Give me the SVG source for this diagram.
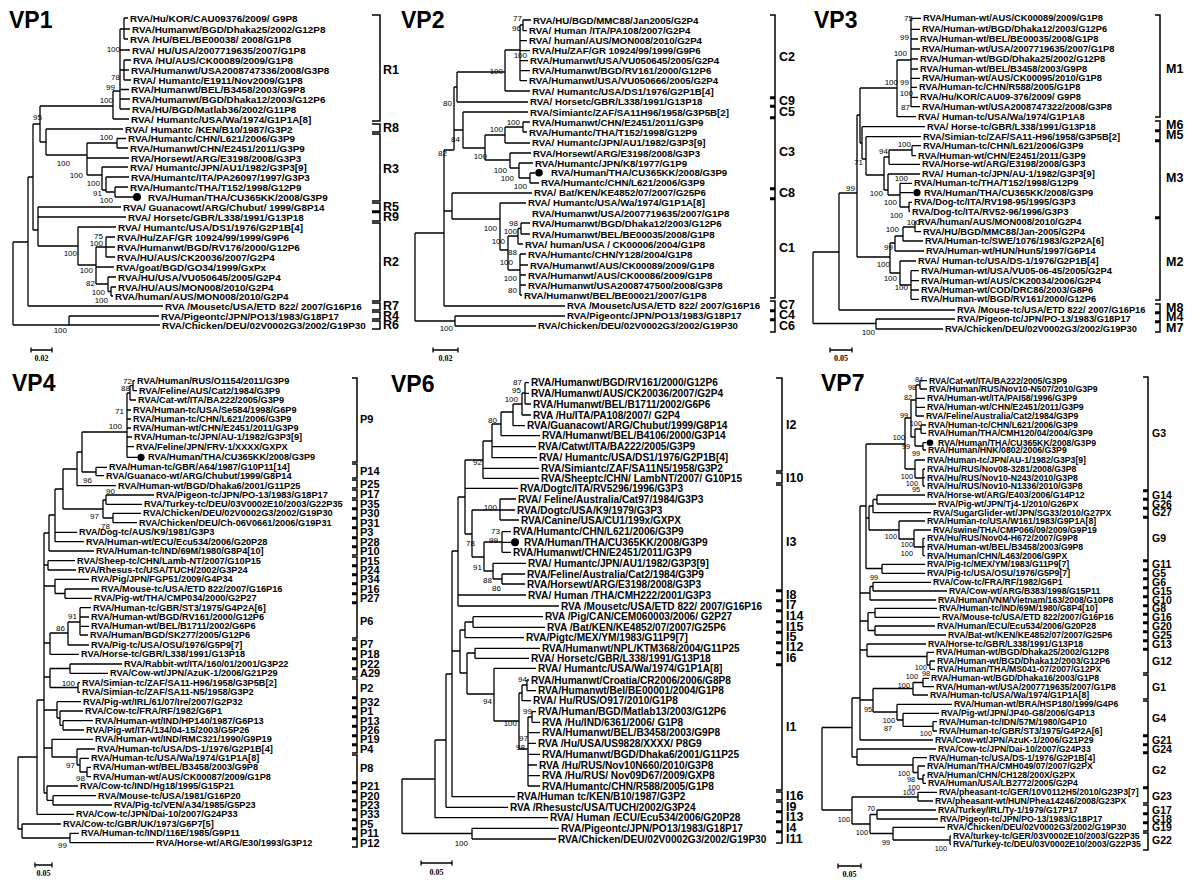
<svg xmlns="http://www.w3.org/2000/svg" width="1200" height="894" viewBox="0 0 1200 894">
<style>
text{font-family:"Liberation Sans",Arial,sans-serif;fill:#000}
.ttl{font-size:23px;font-weight:bold}
.tx text{font-weight:bold;dominant-baseline:central}
.f1{font-size:9.9px}.f2{font-size:9.7px}.f3{font-size:9.3px}.f4{font-size:9.2px}.f6{font-size:10.1px}.f7{font-size:8.7px}
.bs text{font-size:8px;text-anchor:end;dominant-baseline:central}
.bs7 text{font-size:7.3px}
.cl text{font-weight:bold;dominant-baseline:central}
.c14{font-size:12.5px}.c13{font-size:11px}.c12{font-size:10.5px}
.ln{fill:none;stroke:#000;stroke-width:1.3}
.br{fill:none;stroke:#000;stroke-width:1.5}
.sc text{font-family:"Liberation Serif",serif;font-weight:bold;font-size:8px;text-anchor:middle}
</style>
<rect width="1200" height="894" fill="#fff"/>

<!-- VP1 -->
<g id="vp1">
<text class="ttl" x="9" y="28">VP1</text>
<g id="vp1-connectors"><path class="ln" d="M124,18V39M124,18H128M124,29H130M124,39H128M120,29H124M120,50H130M124,60V80M124,60H131M124,70H129M124,80H131M120,70H124M120,89.5H129M120,99H130M120,109H130M120,29V109M113,91V119M113,91H120M113,119H129M40,106V142M40,106H113M40,142H46M46,129V155M46,129H123M46,155H87M87,143V175M87,143H117M87,158H129M87,175H102M117,138.5V148M117,138.5H126M117,148H128M102,167V190M102,167H128M102,190H106M106,177V192M106,177H129M106,192H115M115,187V197M115,187H128M115,197H133M33,124V230M33,124H40M33,230H38M38,207V246M38,207H121M38,217H126M38,246H78M78,227V265M78,227H116M78,265H96M96,247V284M96,247H106M96,267H114M96,284H108M106,237V257M106,237H115M106,247H115M106,257H115M108,277V291.5M108,277H116M108,291.5H111M111,287V296M111,287H116M111,296H113M28,177V306M28,177H33M28,306H163M13,242V325M13,242H28M13,325H69M69,316V325M69,316H159M69,325H160"/></g>
<circle cx="137" cy="197" r="4"/>
<g id="vp1-taxa" class="tx f1">
<text x="130" y="18.3">RVA/Hu/KOR/CAU09376/2009/ G9P8</text>
<text x="132" y="29.3">RVA/Humanwt/BGD/Dhaka25/2002/G12P8</text>
<text x="130" y="39.3">RVA /HU/BEL/BE00038/ 2008/G1P8</text>
<text x="132" y="50">RVA/ HU/USA/2007719635/2007/G1P8</text>
<text x="133" y="60">RVA /HU/AUS/CK00089/2009/G1P8</text>
<text x="131" y="70">RVA/Humanwt/USA2008747336/2008/G3P8</text>
<text x="133" y="80">RVA/ Humantc/E1911/Nov2009/G1P8</text>
<text x="131" y="89.5">RVA/Humanwt/BEL/B3458/2003/G9P8</text>
<text x="132" y="99">RVA/Humanwt/BGD/Dhaka12/2003/G12P6</text>
<text x="132" y="109">RVA/HU/BGD/Matlab36/2002/G11P8</text>
<text x="131" y="119">RVA/ Humantc/USA/Wa/1974/G1P1A[8]</text>
<text x="125" y="129">RVA/ Humantc /KEN/B10/1987/G3P2</text>
<text x="128" y="138.5">RVA/Humantc/CHN/L621/2006/G3P9</text>
<text x="130" y="148">RVA/Humanwt/CHN/E2451/2011/G3P9</text>
<text x="131" y="158">RVA/Horsewt/ARG/E3198/2008/G3P3</text>
<text x="130" y="167">RVA/ Humantc/JPN/AU1/1982/G3P3[9]</text>
<text x="131" y="177">RVA/Humantc/ITA/PA26097/1997/G3P3</text>
<text x="130" y="187">RVA/Humantc/THA/T152/1998/G12P9</text>
<text x="148" y="197">RVA/Human/THA/CU365KK/2008/G3P9</text>
<text x="123" y="207">RVA/ Guanacowt/ARG/Chubut/ 1999/G8P14</text>
<text x="128" y="217">RVA/ Horsetc/GBR/L338/1991/G13P18</text>
<text x="118" y="227">RVA/ Humantc/USA/DS1/1976/G2P1B[4]</text>
<text x="117" y="237">RVA/Hu/ZAF/GR 10924/99/1999/G9P6</text>
<text x="117" y="247">RVA/Humanwt/BGD/RV176/2000/G12P6</text>
<text x="117" y="257">RVA/HU/AUS/CK20036/2007/G2P4</text>
<text x="116" y="267">RVA/goat/BGD/GO34/1999/GxPx</text>
<text x="118" y="277">RVA/HU/USA/VU050645/2005/G2P4</text>
<text x="118" y="287">RVA/HU/AUS/MON008/2010/G2P4</text>
<text x="115" y="296">RVA/human/AUS/MON008/2010/G2P4</text>
<text x="165" y="306">RVA /Mousetc/USA/ETD 822/ 2007/G16P16</text>
<text x="161" y="316">RVA/Pigeontc/JPN/PO13/1983/G18P17</text>
<text x="162" y="325">RVA/Chicken/DEU/02V0002G3/2002/G19P30</text>
</g>
<g id="vp1-support" class="bs">
<text x="120" y="49">100</text><text x="120" y="77">78</text><text x="115" y="87">99</text><text x="113" y="100">100</text><text x="42" y="117">95</text><text x="113" y="137">100</text><text x="70" y="163">100</text><text x="83" y="175">100</text><text x="100" y="183">100</text><text x="102" y="193">91</text><text x="113" y="200">100</text><text x="103" y="236">75</text><text x="103" y="243">100</text><text x="77" y="253">100</text><text x="93" y="270">100</text><text x="95" y="283">82</text><text x="105" y="292">100</text><text x="108" y="300">100</text><text x="67" y="330">100</text>
</g>
<g id="vp1-clades" class="cl c14">
<path class="br" d="M372,15H380V121H372M372,124H380V132H372M372,134H380V201H372M372,203H380V211H372M372,212.5H380V221H372M372,223H380V301H372M372,303H380V310H372M372,312H380V319H372M372,321H380V329H372"/>
<text x="383" y="70">R1</text><text x="383" y="128">R8</text><text x="383" y="169">R3</text><text x="383" y="207">R5</text><text x="383" y="216.5">R9</text><text x="383" y="262">R2</text><text x="383" y="306">R7</text><text x="383" y="315.5">R4</text><text x="383" y="325">R6</text>
</g>
<g id="vp1-scale" class="sc"><path class="ln" d="M31,350H52M31,347.5V352.5M52,347.5V352.5"/><text x="41.5" y="361">0.02</text></g>
</g>

<!-- VP2 -->
<g id="vp2">
<text class="ttl" x="401" y="28">VP2</text>
<g id="vp2-connectors"><path class="ln" d="M523,20V30.7M523,20H531M523,30.7H527M520,25H523M520,25V80.7M520,40.7H527M520,50.7H530M520,60.7H528M520,70.7H530M520,80.7H527M505,50V91M505,50H520M505,91H530M457,72V102M457,72H505M457,102H528M463,112V148M463,112H528M463,148H485M454,87V150M454,87H457M454,130H463M444,150V306M444,150H454M444,211H452M444,306H565M415,233V321M415,233H444M415,321H455M455,316V326M455,316H565M455,326H536M452,193V219M452,193H532M452,219H500M500,203V250M500,203H526M500,250H508M508,236V270M508,236H518M508,270H520M518,228.5V244M518,228.5H521M518,244H523M521,223V234M521,223H530M521,234H530M520,254V295M520,254H526M520,265H528M520,275H526M520,285H526M520,295H522M485,135V160M485,135H505M485,160H510M505,127V143M505,127H523M505,143H530M523,122V132M523,122H530M523,132H527M510,153V168M510,153H531M510,168H519M519,163V178M519,163H533M519,178H530M530,173V183M530,173H535M530,183H539"/></g>
<circle cx="539" cy="172.7" r="3.8"/>
<g id="vp2-taxa" class="tx f2">
<text x="533" y="20">RVA/HU/BGD/MMC88/Jan2005/G2P4</text>
<text x="529" y="30.7">RVA/ Human /ITA/PA108/2007/G2P4</text>
<text x="529" y="40.7">RVA/ human/AUS/MON008/2010/G2P4</text>
<text x="532" y="50.7">RVA/Hu/ZAF/GR 10924/99/1999/G9P6</text>
<text x="530" y="60.7">RVA/Humanwt/USA/VU050645/2005/G2P4</text>
<text x="532" y="70.7">RVA/Humanwt/BGD/RV161/2000/G12P6</text>
<text x="529" y="80.7">RVA/Humanwt/USA/VU050666/2005/G2P4</text>
<text x="532" y="91">RVA/ Humantc/USA/DS1/1976/G2P1B[4]</text>
<text x="530" y="101.7">RVA/ Horsetc/GBR/L338/1991/G13P18</text>
<text x="530" y="112">RVA/Simiantc/ZAF/SA11H96/1958/G3P5B[2]</text>
<text x="532" y="122">RVA/Humanwt/CHN/E2451/2011/G3P9</text>
<text x="529" y="132">RVA/Humantc/THA/T152/1998/G12P9</text>
<text x="532" y="142.7">RVA/ Humantc/JPN/AU1/1982/G3P3[9]</text>
<text x="533" y="153">RVA/Horsewt/ARG/E3198/2008/G3P3</text>
<text x="535" y="163">RVA/Humantc/JPN/K8/1977/G1P9</text>
<text x="551" y="172.7">RVA/Human/THA/CU365KK/2008/G3P9</text>
<text x="541" y="182.7">RVA/Humantc/CHN/L621/2006/G3P9</text>
<text x="534" y="192.7">RVA/ Bat/KEN/KE4852/07/2007/G25P6</text>
<text x="528" y="202.7">RVA/ Humantc/USA/Wa/1974/G1P1A[8]</text>
<text x="532" y="213">RVA/Humanwt/USA/2007719635/2007/G1P8</text>
<text x="532" y="223.3">RVA/Humanwt/BGD/Dhaka12/2003/G12P6</text>
<text x="532" y="234.3">RVA/Humanwt/BEL/BE00035/2008/G1P8</text>
<text x="525" y="244.3">RVA/ human/USA / CK00006/2004/G1P8</text>
<text x="528" y="254.3">RVA/Humantc/CHN/Y128/2004/G1P8</text>
<text x="530" y="265">RVA/Humanwt/AUS/CK00089/2009/G1P8</text>
<text x="528" y="275">RVA/Humanwt/AUS/CK00086/2009/G1P8</text>
<text x="528" y="285">RVA/Humanwt/USA2008747500/2008/G3P8</text>
<text x="524" y="295">RVA/Humanwt/BEL/BE00021/2007/G1P8</text>
<text x="567" y="305.7">RVA /Mousetc/USA/ETD 822/ 2007/G16P16</text>
<text x="567" y="315.7">RVA/Pigeontc/JPN/PO13/1983/G18P17</text>
<text x="538" y="325.7">RVA/Chicken/DEU/02V0002G3/2002/G19P30</text>
</g>
<g id="vp2-support" class="bs">
<text x="522" y="18">77</text><text x="521" y="28">96</text><text x="527" y="55">100</text><text x="503" y="71">100</text><text x="452" y="103">80</text><text x="460" y="139">84</text><text x="447" y="153">82</text><text x="520" y="122">100</text><text x="503" y="129">100</text><text x="487" y="156">100</text><text x="507" y="170">100</text><text x="514" y="178">100</text><text x="527" y="186">100</text><text x="497" y="228">100</text><text x="518" y="223">98</text><text x="517" y="231">100</text><text x="505" y="241">100</text><text x="517" y="252">88</text><text x="513" y="262">100</text><text x="517" y="278">100</text><text x="517" y="290">80</text><text x="453" y="328">100</text>
</g>
<g id="vp2-clades" class="cl c14">
<path class="br" d="M770,15H775V97H770M770,98.5H775V105.5H770M770,107H775V117H770M770,118.5H775V188H770M770,189.5H775V198H770M770,199.5H775V298H770M770,301H775V310H770M770,311.5H775V319H770M770,320.5H775V332H770"/>
<text x="779" y="57">C2</text><text x="779" y="101">C9</text><text x="779" y="112">C5</text><text x="779" y="152">C3</text><text x="779" y="193">C8</text><text x="779" y="248">C1</text><text x="779" y="305">C7</text><text x="779" y="315">C4</text><text x="779" y="326">C6</text>
</g>
<g id="vp2-scale" class="sc"><path class="ln" d="M433,350H458M433,347.5V352.5M458,347.5V352.5"/><text x="445.5" y="361">0.02</text></g>
</g>

<!-- VP3 -->
<g id="vp3">
<text class="ttl" x="814" y="28">VP3</text>
<g id="vp3-connectors"><path class="ln" d="M911,18V107M911,18.3H921M911,29.3H920M911,39H918M911,49H920M911,59H918M911,69H918M911,78.3H920M911,87.3H917M911,97.3H918M911,106.7H920M897,60V117M897,60H911M897,116.7H916M860,88V143M860,88H897M860,143H862M862,126.7V159M862,126.7H925M862,159H866M866,136.7V175M866,136.7H921M866,175H884M884,157V190M884,157H889M884,190H888M889,150V164.3M889,150H912M889,164.3H920M912,145.7V155.7M912,145.7H921M912,155.7H916M888,174V195M888,174H920M888,195H900M900,183.3V207M900,183.3H912M900,192.7H913.5M900,207H909M909,202.3V211.7M909,202.3H912M909,211.7H910M857,115V257M857,115H860M857,257H890M890,243V273M890,243H895M890,273H900M895,236V251M895,236H903M895,251H924M903,227V241M903,227H915M903,241H923M915,221.7V231.7M915,221.7H916M915,231.7H921M900,261V285M900,261H916M900,285H911M911,270.7V299.3M911,270.7H919M911,280.7H919M911,290H919M911,299.3H919M839,193V310M839,193H857M839,310H955M813,252V323.5M813,252H839M813,323.5H876M876,319V329M876,319H955M876,329H943"/></g>
<circle cx="917" cy="192.7" r="3.6"/>
<g id="vp3-taxa" class="tx f3">
<text x="923" y="18.3">RVA/Human-wt/AUS/CK00089/2009/G1P8</text>
<text x="922" y="29.3">RVA/Human-wt/BGD/Dhaka12/2003/G12P6</text>
<text x="920" y="39">RVA/Human-wt/BEL/BE00035/2008/G1P8</text>
<text x="922" y="49">RVA/Human-wt/USA/2007719635/2007/G1P8</text>
<text x="920" y="59">RVA/Human-wt/BGD/Dhaka25/2002/G12P8</text>
<text x="920" y="69">RVA/Human-wt/BEL/B3458/2003/G9P8</text>
<text x="922" y="78.3">RVA/Human-wt/AUS/CK00095/2010/G1P8</text>
<text x="919" y="87.3">RVA/Human-tc/CHN/R588/2005/G1P8</text>
<text x="920" y="97.3">RVA/Hu/KOR/CAU09-376/2009/ G9P8</text>
<text x="922" y="106.7">RVA/Human-wt/USA2008747322/2008/G3P8</text>
<text x="918" y="116.7">RVA/ Human-tc/USA/Wa/1974/G1P1A8</text>
<text x="927" y="126.7">RVA/ Horse-tc/GBR/L338/1991/G13P18</text>
<text x="923" y="136.7">RVA/Simian-tc/ZAF/SA11-H96/1958/G3P5B[2]</text>
<text x="923" y="145.7">RVA/Human-tc/CHN/L621/2006/G3P9</text>
<text x="918" y="155.7">RVA/Human-wt/CHN/E2451/2011/G3P9</text>
<text x="922" y="164.3">RVA/Horse-wt/ARG/E3198/2008/G3P3</text>
<text x="922" y="174">RVA/ Human-tc/JPN/AU-1/1982/G3P3[9]</text>
<text x="914" y="183.3">RVA/Human-tc/THA/T152/1998/G12P9</text>
<text x="924" y="192.7">RVA/Human/THA/CU365KK/2008/G3P9</text>
<text x="914" y="202.3">RVA/Dog-tc/ITA/RV198-95/1995/G3P3</text>
<text x="912" y="211.7">RVA/Dog-tc/ITA/RV52-96/1996/G3P3</text>
<text x="918" y="221.7">RVA/human/AUS/MON008/2010/G2P4</text>
<text x="923" y="231.7">RVA/HU/BGD/MMC88/Jan-2005/G2P4</text>
<text x="925" y="241">RVA/Human-tc/SWE/1076/1983/G2P2A[6]</text>
<text x="926" y="251">RVA/Human-wt/HUN/Hun5/1997/G6P14</text>
<text x="918" y="261">RVA/ Human-tc/USA/DS-1/1976/G2P1B[4]</text>
<text x="921" y="270.7">RVA/Human-wt/USA/VU05-06-45/2005/G2P4</text>
<text x="921" y="280.7">RVA/Human-wt/AUS/CK20034/2006/G2P4</text>
<text x="921" y="290">RVA/Human-wt/COD/DRC86/2003/G8P6</text>
<text x="921" y="299.3">RVA/Human-wt/BGD/RV161/2000/G12P6</text>
<text x="957" y="310">RVA /Mouse-tc/USA/ETD 822/ 2007/G16P16</text>
<text x="957" y="319">RVA/Pigeon-tc/JPN/PO-13/1983/G18P17</text>
<text x="945" y="329">RVA/Chicken/DEU/02V0002G3/2002/G19P30</text>
</g>
<g id="vp3-support" class="bs">
<text x="913" y="18.5">75</text><text x="909" y="37">99</text><text x="907" y="53">100</text><text x="898" y="82">100</text><text x="909" y="82">99</text><text x="913" y="93">100</text><text x="910" y="107">87</text><text x="888" y="151">94</text><text x="911" y="144">100</text><text x="863" y="162">71</text><text x="908" y="178">100</text><text x="855" y="188">99</text><text x="883" y="193">100</text><text x="897" y="202">100</text><text x="903" y="215">100</text><text x="920" y="222">100</text><text x="899" y="229">100</text><text x="893" y="247">99</text><text x="890" y="264">100</text><text x="897" y="278">100</text><text x="908" y="287">100</text><text x="875" y="332">100</text>
</g>
<g id="vp3-clades" class="cl c14">
<path class="br" d="M1155,15H1160V117H1155M1155,121H1160V130H1155M1155,131.5H1160V140H1155M1155,141.5H1160V217H1155M1155,218.5H1160V300H1155M1155,304H1160V312H1155M1155,313.5H1160V321H1155M1155,322.5H1160V332H1155"/>
<text x="1166" y="69">M1</text><text x="1166" y="125">M6</text><text x="1166" y="135">M5</text><text x="1166" y="178">M3</text><text x="1166" y="262">M2</text><text x="1166" y="308">M8</text><text x="1166" y="317">M4</text><text x="1166" y="328">M7</text>
</g>
<g id="vp3-scale" class="sc"><path class="ln" d="M830,350H852M830,347.5V352.5M852,347.5V352.5"/><text x="841" y="361">0.05</text></g>
</g>

<!-- VP4 -->
<g id="vp4">
<text class="ttl" x="12" y="391">VP4</text>
<g id="vp4-connectors"><path class="ln" d="M133,380.7V390.7M133,380.7H135M133,390.7H137M130,385.7V400M130,385.7H133M130,400H136M127,393V457.3M127,393H130M127,410H131M127,419H131M127,428H131M127,437H132M127,446.7H134M127,457.3H137.5M82,432V472M82,432H127M82,472H96M96,467.3V475.7M96,467.3H107M96,475.7H104M77,452V485.7M77,452H82M77,485.7H116M63,469V509M63,469H77M63,509H103M103,500V518M103,500H106M103,518H113M106,495V504.3M106,495H154M106,504.3H142M113,513.3V522.7M113,513.3H141M113,522.7H137M55,489V541.7M55,489H63M55,532.3H77M55,541.7H84M49,515V551M49,515H55M49,551H94M44,533V793M44,533H49M48,560.7V570M48,560.7H75M48,570H76M44,565H48M55,579.3V593.5M55,579.3H89M55,593.5H65M44,586H55M65,589V598.3M65,589H99M65,598.3H92M50,633V654.3M50,633H68M50,654.3H79M44,643H50M68,622V645M68,622H80M68,645H89M80,607.7V635M80,607.7H91M80,617H89M80,626.3H89M80,635H88M50,668.5V687.5M50,668.5H70M50,687.5H78M44,677H50M70,664V673.3M70,664H122M70,673.3H108M78,682.7V692.3M78,682.7H80M78,692.3H80M57,701.7V718M57,701.7H81M57,718H60M44,710H57M60,711V725.3M60,711H83M60,725.3H63M63,720.7V730M63,720.7H93M63,730H84M52,739.3V757M52,739.3H93M52,757H77M44,748H52M77,749V765M77,749H95M77,765H80M80,758.3V772M80,758.3H89M80,772H87M87,767.3V776.7M87,767.3H91M87,776.7H91M47,786V800.3M47,786H78M47,800.3H53M44,793H47M53,795.7V805M53,795.7H96M53,805H112M37,700V814.3M37,700H44M37,814.3H74M18,757V829M18,757H37M18,829H22M22,824V838M22,824H61M22,838H70M70,833.3V842.7M70,833.3H79M70,842.7H154"/></g>
<circle cx="141" cy="457.3" r="3.6"/>
<g id="vp4-taxa" class="tx f4">
<text x="137" y="380.7">RVA/Human/RUS/O1154/2011/G3P9</text>
<text x="139" y="390.7">RVA/Feline/AUS/Cat2/1984/G3P9</text>
<text x="138" y="400">RVA/Cat-wt/ITA/BA222/2005/G3P9</text>
<text x="133" y="410">RVA/Human-tc/USA/Se584/1998/G6P9</text>
<text x="133" y="419">RVA/Human-tc/CHN/L621/2006/G3P9</text>
<text x="133" y="428">RVA/Human-wt/CHN/E2451/2011/G3P9</text>
<text x="134" y="437">RVA/Human-tc/JPN/AU-1/1982/G3P3[9]</text>
<text x="136" y="446.7">RVA/Feline/JPN/FRV-1/XXXX/GXPX</text>
<text x="148" y="457.3">RVA/Human/THA/CU365KK/2008/G3P9</text>
<text x="109" y="467.3">RVA/Human-tc/GBR/A64/1987/G10P11[14]</text>
<text x="106" y="475.7">RVA/Guanaco-wt/ARG/Chubut/1999/G8P14</text>
<text x="118" y="485.7">RVA/Human-wt/BGD/Dhaka6/2001/G11P25</text>
<text x="156" y="495">RVA/Pigeon-tc/JPN/PO-13/1983/G18P17</text>
<text x="144" y="504.3">RVA/Turkey-tc/DEU/03V0002E10/2003/G22P35</text>
<text x="143" y="513.3">RVA/Chicken/DEU/02V0002G3/2002/G19P30</text>
<text x="139" y="522.7">RVA/Chicken/DEU/Ch-06V0661/2006/G19P31</text>
<text x="79" y="532.3">RVA/Dog-tc/AUS/K9/1981/G3P3</text>
<text x="86" y="541.7">RVA/Human-wt/ECU/Ecu534/2006/G20P28</text>
<text x="96" y="551">RVA/Human-tc/IND/69M/1980/G8P4[10]</text>
<text x="77" y="560.7">RVA/Sheep-tc/CHN/Lamb-NT/2007/G10P15</text>
<text x="78" y="570">RVA/Rhesus-tc/USA/TUCH/2002/G3P24</text>
<text x="91" y="579.3">RVA/Pig/JPN/FGP51/2009/G4P34</text>
<text x="101" y="589">RVA/Mouse-tc/USA/ETD 822/2007/G16P16</text>
<text x="94" y="598.3">RVA/Pig-wt/THA/CMP034/2000/G2P27</text>
<text x="93" y="607.7">RVA/Human-tc/GBR/ST3/1975/G4P2A[6]</text>
<text x="91" y="617">RVA/Human-wt/BGD/RV161/2000/G12P6</text>
<text x="91" y="626.3">RVA/Human-wt/BEL/B1711/2002/G6P6</text>
<text x="90" y="635">RVA/Human/BGD/SK277/2005/G12P6</text>
<text x="91" y="645">RVA/Pig-tc/USA/OSU/1976/G5P9[7]</text>
<text x="81" y="654.3">RVA/Horse-tc/GBR/L338/1991/G13P18</text>
<text x="124" y="664">RVA/Rabbit-wt/ITA/160/01/2001/G3P22</text>
<text x="110" y="673.3">RVA/Cow-wt/JPN/AzuK-1/2006/G21P29</text>
<text x="82" y="682.7">RVA/Simian-tc/ZAF/SA11-H96/1958/G3P5B[2]</text>
<text x="82" y="692.3">RVA/Simian-tc/ZAF/SA11-N5/1958/G3P2</text>
<text x="83" y="701.7">RVA/Pig-wt/IRL/61/07/Ire/2007/G2P32</text>
<text x="85" y="711">RVA/Cow-tc/FRA/RF/1982/G6P1</text>
<text x="95" y="720.7">RVA/Human-wt/IND/HP140/1987/G6P13</text>
<text x="86" y="730">RVA/Pig-wt/ITA/134/04-15/2003/G5P26</text>
<text x="95" y="739.3">RVA/Human-wt/IND/RMC321/1990/G9P19</text>
<text x="97" y="749">RVA/Human-tc/USA/DS-1/1976/G2P1B[4]</text>
<text x="91" y="758.3">RVA/Human-tc/USA/Wa/1974/G1P1A[8]</text>
<text x="93" y="767.3">RVA/Human-wt/BEL/B3458/2003/G9P8</text>
<text x="93" y="776.7">RVA/Human-wt/AUS/CK00087/2009/G1P8</text>
<text x="80" y="786">RVA/Cow-tc/IND/Hg18/1995/G15P21</text>
<text x="98" y="795.7">RVA/Mouse-tc/USA/1981/G16P20</text>
<text x="114" y="805">RVA/Pig-tc/VEN/A34/1985/G5P23</text>
<text x="76" y="814.3">RVA/Cow-tc/JPN/Dai-10/2007/G24P33</text>
<text x="63" y="824">RVA/Cow-tc/GBR/UK/1973/G6P7[5]</text>
<text x="81" y="833.3">RVA/Human-tc/IND/116E/1985/G9P11</text>
<text x="156" y="842.7">RVA/Horse-wt/ARG/E30/1993/G3P12</text>
</g>
<g id="vp4-support" class="bs">
<text x="132" y="381">72</text><text x="130" y="388">88</text><text x="124" y="411">71</text><text x="122" y="426">100</text><text x="92" y="480">96</text><text x="115" y="491">90</text><text x="99" y="516">97</text><text x="110" y="526">78</text><text x="77" y="616">91</text><text x="65" y="628">86</text><text x="75" y="683">100</text><text x="75" y="765">97</text><text x="85" y="778">98</text><text x="67" y="845">99</text>
</g>
<g id="vp4-clades" class="cl c13">
<path class="br" d="M352,378H357V462H352M352,464H357V478H352M352,480H357V488H352M352,490H357V498H352M352,500H357V508H352M352,509.5H357V517.5H352M352,519H357V527H352M352,528.5H357V537H352M352,538.5H357V546H352M352,547.5H357V555H352M352,557H357V565H352M352,566.5H357V574H352M352,575.5H357V583H352M352,584.5H357V593H352M352,594.5H357V602H352M352,603.5H357V638H352M352,640H357V648H352M352,649.5H357V658H352M352,659.5H357V668H352M352,669.5H357V677H352M352,679H357V697H352M352,698.5H357V707H352M352,708.5H357V716H352M352,717.5H357V725.5H352M352,727H357V735H352M352,736.5H357V744H352M352,745.5H357V753H352M352,755H357V782H352M352,783.5H357V791H352M352,792.5H357V800H352M352,801.5H357V809H352M352,810.5H357V819H352M352,820.5H357V828H352M352,829.5H357V838H352M352,839.5H357V847H352"/>
<text x="360" y="419">P9</text><text x="360" y="471">P14</text><text x="360" y="484">P25</text><text x="360" y="494">P17</text><text x="360" y="504">P35</text><text x="360" y="513">P30</text><text x="360" y="523">P31</text><text x="360" y="532">P3</text><text x="360" y="542">P28</text><text x="360" y="551">P10</text><text x="360" y="561">P15</text><text x="360" y="570">P24</text><text x="360" y="579">P34</text><text x="360" y="589">P16</text><text x="360" y="598">P27</text><text x="360" y="621">P6</text><text x="360" y="644">P7</text><text x="360" y="654">P18</text><text x="360" y="664">P22</text><text x="360" y="673">A29</text><text x="360" y="688">P2</text><text x="360" y="702">P32</text><text x="360" y="711">P1</text><text x="360" y="721">P13</text><text x="360" y="730">P26</text><text x="360" y="739">P19</text><text x="360" y="749">P4</text><text x="360" y="768">P8</text><text x="360" y="786">P21</text><text x="360" y="796">P20</text><text x="360" y="805">P23</text><text x="360" y="814">P33</text><text x="360" y="824">P5</text><text x="360" y="833">P11</text><text x="360" y="843">P12</text>
</g>
<g id="vp4-scale" class="sc"><path class="ln" d="M35,865H52M35,862.5V867.5M52,862.5V867.5"/><text x="43.5" y="876">0.05</text></g>
</g>

<!-- VP6 -->
<g id="vp6">
<text class="ttl" x="391" y="392">VP6</text>
<g id="vp6-connectors"><path class="ln" d="M525,382.7V404M525,382.7H529M525,393.3H529M525,404H531M522,393V415M522,393H525M522,415H531M513,404V425.7M513,404H522M513,425.7H525M501,412V435.7M501,412H513M501,435.7H540M492,424V457.7M492,424H501M492,446.7H536M492,457.7H537M483,441V478.3M483,441H492M483,468.3H539M483,478.3H539M465,460V534M465,460H483M465,488.3H518M465,534H472M472,510V557M472,510H500M472,557H484M500,499V520M500,499H516M500,510H515M500,520H519M484,542V571M484,542H502M484,571H493M502,531.7V552.3M502,531.7H511M502,542.3H511M502,552.3H511M493,563.3V579M493,563.3H526M493,579H502M502,574V584M502,574H525M502,584H525M458,497V606M458,497H465M458,595H526M458,606H559M452,551V796.7M452,551H458M452,651H460M452,796.7H515M460,630V673M460,630H465M460,673H467M465,622V637.7M465,622H473M465,637.7H524M473,616.7V627.3M473,616.7H543M473,627.3H545M467,653V694M467,653H475M467,694H494M475,648.3V658.3M475,648.3H540M475,658.3H529M494,668.3V721M494,668.3H536M494,721H519M519,693V749M519,693H522M519,749H528M522,685V700.7M522,685H527M522,700.7H531M527,680V690.7M527,680H529M527,690.7H536M532,711.7V722.3M532,711.7H536M532,722.3H540M528,717H532M528,717V786M528,732.7H540M528,743.3H536M528,754.3H540M528,765H537M528,775.7H540M528,786H540M446,674V807.3M446,674H452M446,807.3H508M435,740V817.7M435,740H446M435,817.7H548M402,779V833.5M402,779H435M402,833.5H472M472,828.3V839M472,828.3H559M472,839H556"/></g>
<circle cx="515" cy="542.3" r="4"/>
<g id="vp6-taxa" class="tx f6">
<text x="531" y="382.7">RVA/Humanwt/BGD/RV161/2000/G12P6</text>
<text x="531" y="393.3">RVA/Humanwt/AUS/CK20036/2007/G2P4</text>
<text x="533" y="404">RVA/Humanwt/BEL/B1711/2002/G6P6</text>
<text x="533" y="415">RVA /Hu/ITA/PA108/2007/ G2P4</text>
<text x="527" y="425.7">RVA/Guanacowt/ARG/Chubut/1999/G8P14</text>
<text x="542" y="435.7">RVA/Humanwt/BEL/B4106/2000/G3P14</text>
<text x="538" y="446.7">RVA/Catwt/ITA/BA222/2005/G3P9</text>
<text x="539" y="457.7">RVA/ Humantc/USA/DS1/1976/G2P1B[4]</text>
<text x="541" y="468.3">RVA/Simiantc/ZAF/SA11N5/1958/G3P2</text>
<text x="541" y="478.3">RVA/Sheeptc/CHN/ LambNT/2007/ G10P15</text>
<text x="520" y="488.3">RVA/Dogtc/ITA/RV5296/1996/G3P3</text>
<text x="518" y="499">RVA/ Feline/Australia/Cat97/1984/G3P3</text>
<text x="517" y="510">RVA/Dogtc/USA/K9/1979/G3P3</text>
<text x="521" y="520">RVA/Canine/USA/CU1/199x/GXPX</text>
<text x="513" y="531.7">RVA/Humantc/CHN/L621/2006/G3P9</text>
<text x="524" y="542.3">RVA/Human/THA/CU365KK/2008/G3P9</text>
<text x="513" y="552.3">RVA/Humanwt/CHN/E2451/2011/G3P9</text>
<text x="528" y="563.3">RVA/ Humantc/JPN/AU1/1982/G3P3[9]</text>
<text x="527" y="574">RVA/Feline/Australia/Cat2/1984/G3P9</text>
<text x="527" y="584">RVA/Horsewt/ARG/E3198/2008/G3P3</text>
<text x="528" y="595">RVA/ Human /THA/CMH222/2001/G3P3</text>
<text x="561" y="606">RVA /Mousetc/USA/ETD 822/ 2007/G16P16</text>
<text x="545" y="616.7">RVA /Pig/CAN/CEM060003/2006/ G2P27</text>
<text x="547" y="627.3">RVA /Bat/KEN/KE4852/07/2007/G25P6</text>
<text x="526" y="637.7">RVA/Pigtc/MEX/YM/1983/G11P9[7]</text>
<text x="542" y="648.3">RVA/Humanwt/NPL/KTM368/2004/G11P25</text>
<text x="531" y="658.3">RVA/ Horsetc/GBR/L338/1991/G13P18</text>
<text x="538" y="668.3">RVA/ Humantc/USA/Wa/1974/G1P1A[8]</text>
<text x="531" y="680">RVA/Humanwt/Croatia/CR2006/2006/G8P8</text>
<text x="538" y="690.7">RVA/Humanwt/Bel/BE00001/2004/G1P8</text>
<text x="533" y="700.7">RVA/ Hu/RUS/O917/2010/G1P8</text>
<text x="538" y="711.7">RVA/Human/BGD/Matlab13/2003/G12P6</text>
<text x="542" y="722.3">RVA /Hu/IND/6361/2006/ G1P8</text>
<text x="542" y="732.7">RVA/Humanwt/BEL/B3458/2003/G9P8</text>
<text x="538" y="743.3">RVA /Hu/USA/US9828/XXXX/ P8G9</text>
<text x="542" y="754.3">RVA/Humanwt/BGD/Dhaka6/2001/G11P25</text>
<text x="539" y="765">RVA /Hu/RUS/Nov10N660/2010/G3P8</text>
<text x="542" y="775.7">RVA /Hu/RUS/ Nov09D67/2009/GXP8</text>
<text x="542" y="786">RVA/Humantc/CHN/R588/2005/G1P8</text>
<text x="517" y="796.7">RVA/Human tc/KEN/B10/1987/G3P2</text>
<text x="510" y="807.3">RVA /Rhesustc/USA/TUCH/2002/G3P24</text>
<text x="550" y="817.7">RVA/ Human /ECU/Ecu534/2006/G20P28</text>
<text x="561" y="828.3">RVA/Pigeontc/JPN/PO13/1983/G18P17</text>
<text x="558" y="839">RVA/Chicken/DEU/02V0002G3/2002/G19P30</text>
</g>
<g id="vp6-support" class="bs">
<text x="522" y="382">87</text><text x="521" y="390">95</text><text x="518" y="399">100</text><text x="497" y="420">80</text><text x="482" y="462">92</text><text x="497" y="507">100</text><text x="500" y="531">73</text><text x="498" y="540">99</text><text x="475" y="543">78</text><text x="482" y="567">91</text><text x="492" y="580">88</text><text x="501" y="588">86</text><text x="527" y="679">94</text><text x="492" y="701">94</text><text x="532" y="711">99</text><text x="517" y="723">100</text><text x="528" y="738">97</text><text x="525" y="747">98</text><text x="468" y="843">100</text>
</g>
<g id="vp6-clades" class="cl c14">
<path class="br" d="M776,378H782V471H776M776,473H782V483H776M776,485H782V590H776M776,591.5H782V600H776M776,601.5H782V610H776M776,611.5H782V621H776M776,622.5H782V631.5H776M776,633H782V642H776M776,643.5H782V652H776M776,653.5H782V664H776M776,665.5H782V790H776M776,792H782V800H776M776,802H782V811H776M776,812.5H782V821H776M776,822.5H782V831H776M776,832.5H782V843H776"/>
<text x="786" y="425">I2</text><text x="786" y="478">I10</text><text x="786" y="542">I3</text><text x="786" y="595">I8</text><text x="786" y="605">I7</text><text x="786" y="616">I14</text><text x="786" y="627">I15</text><text x="786" y="637">I5</text><text x="786" y="647">I12</text><text x="786" y="658">I6</text><text x="786" y="727">I1</text><text x="786" y="796">I16</text><text x="786" y="807">I9</text><text x="786" y="817">I13</text><text x="786" y="828">I4</text><text x="786" y="839">I11</text>
</g>
<g id="vp6-scale" class="sc"><path class="ln" d="M421,863H452M421,860.5V865.5M452,860.5V865.5"/><text x="436.5" y="875">0.05</text></g>
</g>

<!-- VP7 -->
<g id="vp7">
<text class="ttl" x="821" y="391">VP7</text>
<g id="vp7-connectors"><path class="ln" d="M920,380.7V389M920,380.7H927M920,389H927M916,385V416M916,385H920M916,398.3H925M916,407.3H925M916,416H924M921,425V433.3M921,425H926M921,433.3H926M923,442.7V450M923,442.7H926.5M923,450H926M915,429V446M915,429H921M915,446H923M911,400V437M911,400H916M911,437H915M915,460V478M915,460H925M915,478H923M923,469V486M923,469H925M923,477.7H925M923,486H925M905,418V469M905,418H911M905,469H915M866,444V568.5M866,444H905M866,518H869M866,568.5H882M869,506V530M869,506H873M869,530H899M873,499.5V512.7M873,499.5H877M873,512.7H931M877,495V504M877,495H925M877,504H936M899,521V539M899,521H925M899,539H914M914,530V547M914,530H931M914,547H923M923,538.3V555.7M923,538.3H925M923,546.7H925M923,555.7H925M882,564.3V573.3M882,564.3H925M882,573.3H925M860,506V740M860,506H866M860,593H870M860,621H868M860,650H867M860,700H873M860,740H933M870,586.5V600M870,586.5H873M870,600H936M873,582.3V591M873,582.3H931M873,591H947M868,612.7V630.5M868,612.7H875M868,630.5H875M875,608.3V617.3M875,608.3H937M875,617.3H940M875,626V635M875,626H935M875,635H946M867,644V656.5M867,644H926M867,656.5H927M927,652.3V665M927,652.3H934M927,665H930M930,661V669.3M930,661H935M930,669.3H935M873,688.5V712M873,688.5H913M873,712H897M913,682.5V695M913,682.5H923M913,695H928M923,678.3V686.7M923,678.3H929M923,686.7H934M897,704.3V720M897,704.3H952M897,720H903M903,713.3V726.3M903,713.3H939M903,726.3H933M933,721.7V731M933,721.7H937M933,731H937M852,698V757M852,698H860M852,757H857M857,749V765M857,749H936M857,765H913M913,757.7V772.5M913,757.7H927M913,772.5H918M918,766V779M918,766H925M918,779H923M923,775V783.3M923,775H925M923,783.3H926M822,727.5V810M822,727.5H852M822,810H852M852,797V824M852,797H918M852,824H870M918,792.3V801M918,792.3H937M918,801H933M870,814.5V833.5M870,814.5H877M870,833.5H893M877,810V819M877,810H936M877,819H938M893,827.3V840M893,827.3H945M893,840H950M950,836V844.3M950,836H951M950,844.3H951"/></g>
<circle cx="930" cy="442.7" r="3.3"/>
<g id="vp7-taxa" class="tx f7">
<text x="929" y="380.7">RVA/Cat-wt/ITA/BA222/2005/G3P9</text>
<text x="929" y="389">RVA/Human/RUS/Nov10-N507/2010/G3P9</text>
<text x="927" y="398.3">RVA/Human-wt/ITA/PAI58/1996/G3P9</text>
<text x="927" y="407.3">RVA/Human-wt/CHN/E2451/2011/G3P9</text>
<text x="926" y="416">RVA/Feline/Australia/Cat2/1984/G3P9</text>
<text x="928" y="425">RVA/Human-tc/CHN/L621/2006/G3P9</text>
<text x="928" y="433.3">RVA/Human/THA/CMH120/04/2004/G3P9</text>
<text x="938" y="442.7">RVA/Human/THA/CU365KK/2008/G3P9</text>
<text x="928" y="450">RVA/Human/HNK/0802/2006/G3P9</text>
<text x="927" y="460">RVA/Human-tc/JPN/AU-1/1982/G3P3[9]</text>
<text x="927" y="469">RVA/Hu/RUS/Nov08-3281/2008/G3P8</text>
<text x="927" y="477.7">RVA/Hu/RUS/Nov10-N243/2010/G3P8</text>
<text x="927" y="486">RVA/Hu/RUS/Nov10-N1336/2010/G3P8</text>
<text x="927" y="495">RVA/Horse-wt/ARG/E403/2006/G14P12</text>
<text x="938" y="504">RVA/Pig-wt/JPN/Tj4-1/2010/G26PX</text>
<text x="933" y="512.7">RVA/SugarGlider-wt/JPN/SG33/2010/G27PX</text>
<text x="927" y="521">RVA/Human-tc/USA/W161/1983/G9P1A[8]</text>
<text x="933" y="530">RVA/swine/THA/CMP066/09/2009/G9P19</text>
<text x="927" y="538.3">RVA/Hu/RUS/Nov04-H672/2007/G9P8</text>
<text x="927" y="546.7">RVA/Human-wt/BEL/B3458/2003/G9P8</text>
<text x="927" y="555.7">RVA/Human/CHN/L463/2006/G9PX</text>
<text x="927" y="564.3">RVA/Pig-tc/MEX/YM/1983/G11P9[7]</text>
<text x="927" y="573.3">RVA/Pig-tc/USA/OSU/1976/G5P9[7]</text>
<text x="933" y="582.3">RVA/Cow-tc/FRA/RF/1982/G6P1</text>
<text x="949" y="591">RVA/Cow-wt/ARG/B383/1998/G15P11</text>
<text x="938" y="600">RVA/Human/VNM/Vietnam/163/2008/G10P8</text>
<text x="939" y="608.3">RVA/Human-tc/IND/69M/1980/G8P4[10]</text>
<text x="942" y="617.3">RVA/Mouse-tc/USA/ETD 822/2007/G16P16</text>
<text x="937" y="626">RVA/Human/ECU/Ecu534/2006/G20P28</text>
<text x="948" y="635">RVA/Bat-wt/KEN/KE4852/07/2007/G25P6</text>
<text x="928" y="644">RVA/Horse-tc/GBR/L338/1991/G13P18</text>
<text x="936" y="652.3">RVA/Human-wt/BGD/Dhaka25/2002/G12P8</text>
<text x="937" y="661">RVA/Human-wt/BGD/Dhaka12/2003/G12P6</text>
<text x="937" y="669.3">RVA/Human/THA/MS041-07/2007/G12PX</text>
<text x="931" y="678.3">RVA/Human-wt/BGD/Dhaka16/2003/G1P8</text>
<text x="936" y="686.7">RVA/Human-wt/USA/2007719635/2007/G1P8</text>
<text x="930" y="695">RVA/Human-tc/USA/Wa/1974/G1P1A[8]</text>
<text x="954" y="704.3">RVA/Human-wt/BRA/HSP180/1999/G4P6</text>
<text x="941" y="713.3">RVA/Pig-wt/JPN/JP40-G8/2006/G4P13</text>
<text x="939" y="721.7">RVA/Human-tc/IDN/57M/1980/G4P10</text>
<text x="939" y="731">RVA/Human-tc/GBR/ST3/1975/G4P2A[6]</text>
<text x="935" y="740">RVA/Cow-wt/JPN/AzuK-1/2006/G21P29</text>
<text x="938" y="749">RVA/Cow-tc/JPN/Dai-10/2007/G24P33</text>
<text x="929" y="757.7">RVA/Human-tc/USA/DS-1/1976/G2P1B[4]</text>
<text x="927" y="766">RVA/Human/THA/CMH049/07/2007/G2PX</text>
<text x="927" y="775">RVA/Human/CHN/CH128/200X/G2PX</text>
<text x="928" y="783.3">RVA/Human/USA/LB2772/2005/G2P4</text>
<text x="939" y="792.3">RVA/pheasant-tc/GER/10V0112H5/2010/G23P3[7]</text>
<text x="935" y="801">RVA/pheasant-wt/HUN/Phea14246/2008/G23PX</text>
<text x="938" y="810">RVA/Turkey/IRL/Ty-1/1979/G17P17</text>
<text x="940" y="819">RVA/Pigeon-tc/JPN/PO-13/1983/G18P17</text>
<text x="947" y="827.3">RVA/Chicken/DEU/02V0002G3/2002/G19P30</text>
<text x="953" y="836">RVA/turkey-tc/GER/03V0002E10/2003/G22P35</text>
<text x="953" y="844.3">RVA/Turkey-tc/DEU/03V0002E10/2003/G22P35</text>
</g>
<g id="vp7-support" class="bs bs7">
<text x="923" y="379">84</text><text x="916" y="387">98</text><text x="912" y="397">82</text><text x="908" y="415">99</text><text x="922" y="423">100</text><text x="905" y="437">100</text><text x="910" y="446">99</text><text x="920" y="453">99</text><text x="913" y="476">100</text><text x="918" y="483">100</text><text x="920" y="489">95</text><text x="897" y="536">100</text><text x="913" y="544">100</text><text x="913" y="553">100</text><text x="878" y="577">99</text><text x="927" y="667">100</text><text x="930" y="673">98</text><text x="918" y="676">100</text><text x="910" y="685">100</text><text x="872" y="709">95</text><text x="895" y="720">100</text><text x="892" y="728">87</text><text x="932" y="733">100</text><text x="910" y="773">100</text><text x="915" y="779">98</text><text x="920" y="787">100</text><text x="915" y="792">100</text><text x="875" y="808">70</text><text x="868" y="832">100</text><text x="850" y="819">100</text><text x="890" y="842">99</text><text x="947" y="848">100</text>
</g>
<g id="vp7-clades" class="cl c12">
<path class="br" d="M1143,377H1148V490H1143M1143,491.5H1148V498.5H1143M1143,500H1148V507.5H1143M1143,509H1148V516.5H1143M1143,518H1148V560H1143M1143,561.5H1148V569H1143M1143,570.5H1148V578H1143M1143,579.5H1148V587H1143M1143,588.5H1148V596H1143M1143,597.5H1148V605H1143M1143,606.5H1148V613.5H1143M1143,615H1148V622H1143M1143,623.5H1148V631H1143M1143,632.5H1148V640H1143M1143,641.5H1148V648.5H1143M1143,650H1148V673H1143M1143,675H1148V699H1143M1143,701H1148V735H1143M1143,736.5H1148V744H1143M1143,745.5H1148V752H1143M1143,753.5H1148V787H1143M1143,788.5H1148V803H1143M1143,805H1148V813H1143M1143,814.5H1148V822H1143M1143,823.5H1148V831H1143M1143,833H1148V850H1143"/>
<text x="1152" y="433">G3</text><text x="1152" y="495">G14</text><text x="1152" y="504">G26</text><text x="1152" y="512">G27</text><text x="1152" y="538">G9</text><text x="1152" y="564">G11</text><text x="1152" y="573">G5</text><text x="1152" y="582">G6</text><text x="1152" y="591">G15</text><text x="1152" y="600">G10</text><text x="1152" y="608">G8</text><text x="1152" y="617">G16</text><text x="1152" y="626">G20</text><text x="1152" y="635">G25</text><text x="1152" y="644">G13</text><text x="1152" y="661">G12</text><text x="1152" y="687">G1</text><text x="1152" y="718">G4</text><text x="1152" y="740">G21</text><text x="1152" y="749">G24</text><text x="1152" y="770">G2</text><text x="1152" y="796">G23</text><text x="1152" y="810">G17</text><text x="1152" y="819">G18</text><text x="1152" y="827">G19</text><text x="1152" y="840">G22</text>
</g>
<g id="vp7-scale" class="sc"><path class="ln" d="M838,866H861M838,863.5V868.5M861,863.5V868.5"/><text x="849.5" y="877">0.05</text></g>
</g>
</svg>
